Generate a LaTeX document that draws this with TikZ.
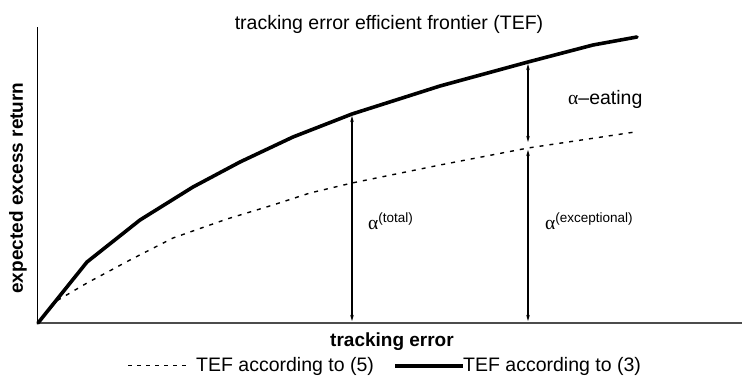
\documentclass[tikz,border=0pt]{standalone}
\usepackage{fontspec}
\setmainfont{Liberation Sans}
\newfontfamily\greekfont{Liberation Serif}
\usetikzlibrary{arrows.meta}
\begin{document}
\begin{tikzpicture}[x=1pt,y=-1pt,
  lbl/.style={font=\fontsize{19.5}{22}\selectfont, inner sep=0pt},
  axlbl/.style={font=\bfseries\fontsize{19}{22}\selectfont, inner sep=0pt},
  axisy/.style={line width=1pt, black},
  axisx/.style={line width=2pt, black!70},
  tef/.style={line width=3.6pt, line join=round, line cap=round},
  tefd/.style={line width=1.4pt, dash pattern=on 4pt off 6pt},
  legd/.style={line width=1pt, dash pattern=on 4pt off 5pt},
  legs/.style={line width=3.2pt},
  dbl/.style={line width=1.1pt, {Stealth[length=6pt,width=3.5pt]}-{Stealth[length=6pt,width=3.5pt]}}]
\useasboundingbox (0,0) rectangle (742,387);
% axes
\coordinate (O) at (38,323);
\coordinate (ybot) at (37,323);
\coordinate (ytop) at (37,27);
\coordinate (xend) at (742,323);
\draw[axisy] (ybot) -- (ytop);
\draw[axisx] (O) -- (xend);
% curves
\draw[tefd] plot coordinates {(38,323) (53,303) (87,283) (130,260) (173,238) (227,219) (273,205) (310,193) (352,183) (440,165) (528,148) (635,132)};
\draw[tef] plot coordinates {(38,323) (87,262) (140,220) (193,187) (240,162) (293,137) (352,114) (440,86) (528,62) (593,45) (637,37)};
% arrows
\coordinate (a1t) at (352,116);
\coordinate (a1b) at (352,321);
\coordinate (a2t) at (528,64);
\coordinate (a2m) at (528,142);
\coordinate (a3t) at (528,150);
\coordinate (a3b) at (528,321);
\draw[dbl] (a1t) -- (a1b);
\draw[dbl] (a2t) -- (a2m);
\draw[dbl] (a3t) -- (a3b);
% labels
\node[lbl, anchor=base] (title) at (389,30) {tracking error efficient frontier (TEF)};
\node[axlbl, anchor=base] (xl) at (392,347) {tracking error};
\node[axlbl, rotate=90] (yl) at (18,188) {expected excess return};
\node[lbl, anchor=base west] (eat) at (568,105) {{\greekfont α}–eating};
\node[lbl, anchor=base west] (atot) at (368,230) {{\greekfont α}\raisebox{7pt}{\fontsize{13.5}{15}\selectfont(total)}};
\node[lbl, anchor=base west] (aexc) at (545,230) {{\greekfont α}\raisebox{7pt}{\fontsize{13.5}{15}\selectfont(exceptional)}};
% legend
\coordinate (l5a) at (128,366);
\coordinate (l5b) at (189,366);
\coordinate (l3a) at (395,366);
\coordinate (l3b) at (463,366);
\draw[legd] (l5a) -- (l5b);
\node[lbl, anchor=base west] (leg5) at (196,372) {TEF according to (5)};
\draw[legs] (l3a) -- (l3b);
\node[lbl, anchor=base west] (leg3) at (463,372) {TEF according to (3)};
\end{tikzpicture}
\end{document}
